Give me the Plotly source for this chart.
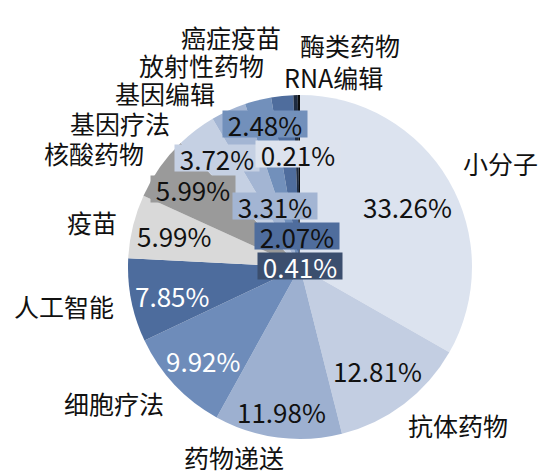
import plotly.graph_objects as go

# ---- data ----
categories = ["小分子", "抗体药物", "药物递送", "细胞疗法", "人工智能", "疫苗", "核酸药物",
              "基因疗法", "基因编辑", "放射性药物", "癌症疫苗", "酶类药物", "RNA编辑"]
shares = [33.26, 12.81, 11.98, 9.92, 7.85, 5.99, 5.99, 3.72, 3.31, 2.48, 2.07, 0.41, 0.21]

# ---- styles ----
slice_colors = ["#dce3ef", "#c3cee2", "#9db0d0", "#6e8cba", "#4d6c9d", "#d9d9d9", "#9a9a9a",
                "#c5d0e3", "#a3b5d3", "#7290bb", "#4f6d9d", "#1e2b40", "#0d0d0d"]
# label positions in pixels (x, y from top) : name label, percent label
name_pos = [(500, 163), (458, 425), (234, 457), (114, 403), (64, 306), (92, 222), (94, 153),
            (120, 123), (165, 93), (201, 65), (231, 37), (350, 45), (333, 77)]
pct_pos = [(407, 206), (377, 370), (281, 411), (203, 360), (172, 295), (174, 235), (193, 189),
           (217, 158), (275, 206), (265, 124), (297, 236), (300, 266), (298, 154)]
pct_box = [None, None, None, None, None, None, "#9a9a9a",
           "#c5d0e3", "#a3b5d3", "#7290bb", "#4f6d9d", "#3b4e6e", "#dde3ee"]
pct_color = ["#111", "#111", "#111", "white", "white", "#111", "#111",
             "#111", "#111", "#111", "#111", "white", "#111"]

W, H = 543, 473
cx, cy, r = 300, 267, 172
FONT = "Noto Sans CJK SC"

fig = go.Figure(go.Pie(
    labels=categories, values=shares, sort=False, direction="clockwise", rotation=0,
    marker=dict(colors=slice_colors, line=dict(width=0)),
    textinfo="none", hoverinfo="label+percent", showlegend=False,
    domain=dict(x=[(cx - r) / W, (cx + r) / W], y=[(H - cy - r) / H, (H - cy + r) / H]),
))

anns = []
for i, cat in enumerate(categories):
    nx, ny = name_pos[i]
    anns.append(dict(text=cat, x=nx / W, y=1 - ny / H, xref="paper", yref="paper",
                     showarrow=False, font=dict(family=FONT, size=25, color="#111"),
                     xanchor="center", yanchor="middle"))
    px, py = pct_pos[i]
    a = dict(text=f"{shares[i]:.2f}%", x=px / W, y=1 - py / H, xref="paper", yref="paper",
             showarrow=False, font=dict(family=FONT, size=26, color=pct_color[i]),
             xanchor="center", yanchor="middle")
    if pct_box[i]:
        a.update(bgcolor=pct_box[i], width=84, height=26, borderpad=0)
    anns.append(a)

fig.update_layout(
    width=W, height=H, margin=dict(l=0, r=0, t=0, b=0),
    paper_bgcolor="white", plot_bgcolor="white",
    annotations=anns, font=dict(family=FONT),
)
fig.write_html("out.html", config={"displayModeBar": False},
               post_script="document.body.style.margin='0';document.body.style.overflow='hidden';")
